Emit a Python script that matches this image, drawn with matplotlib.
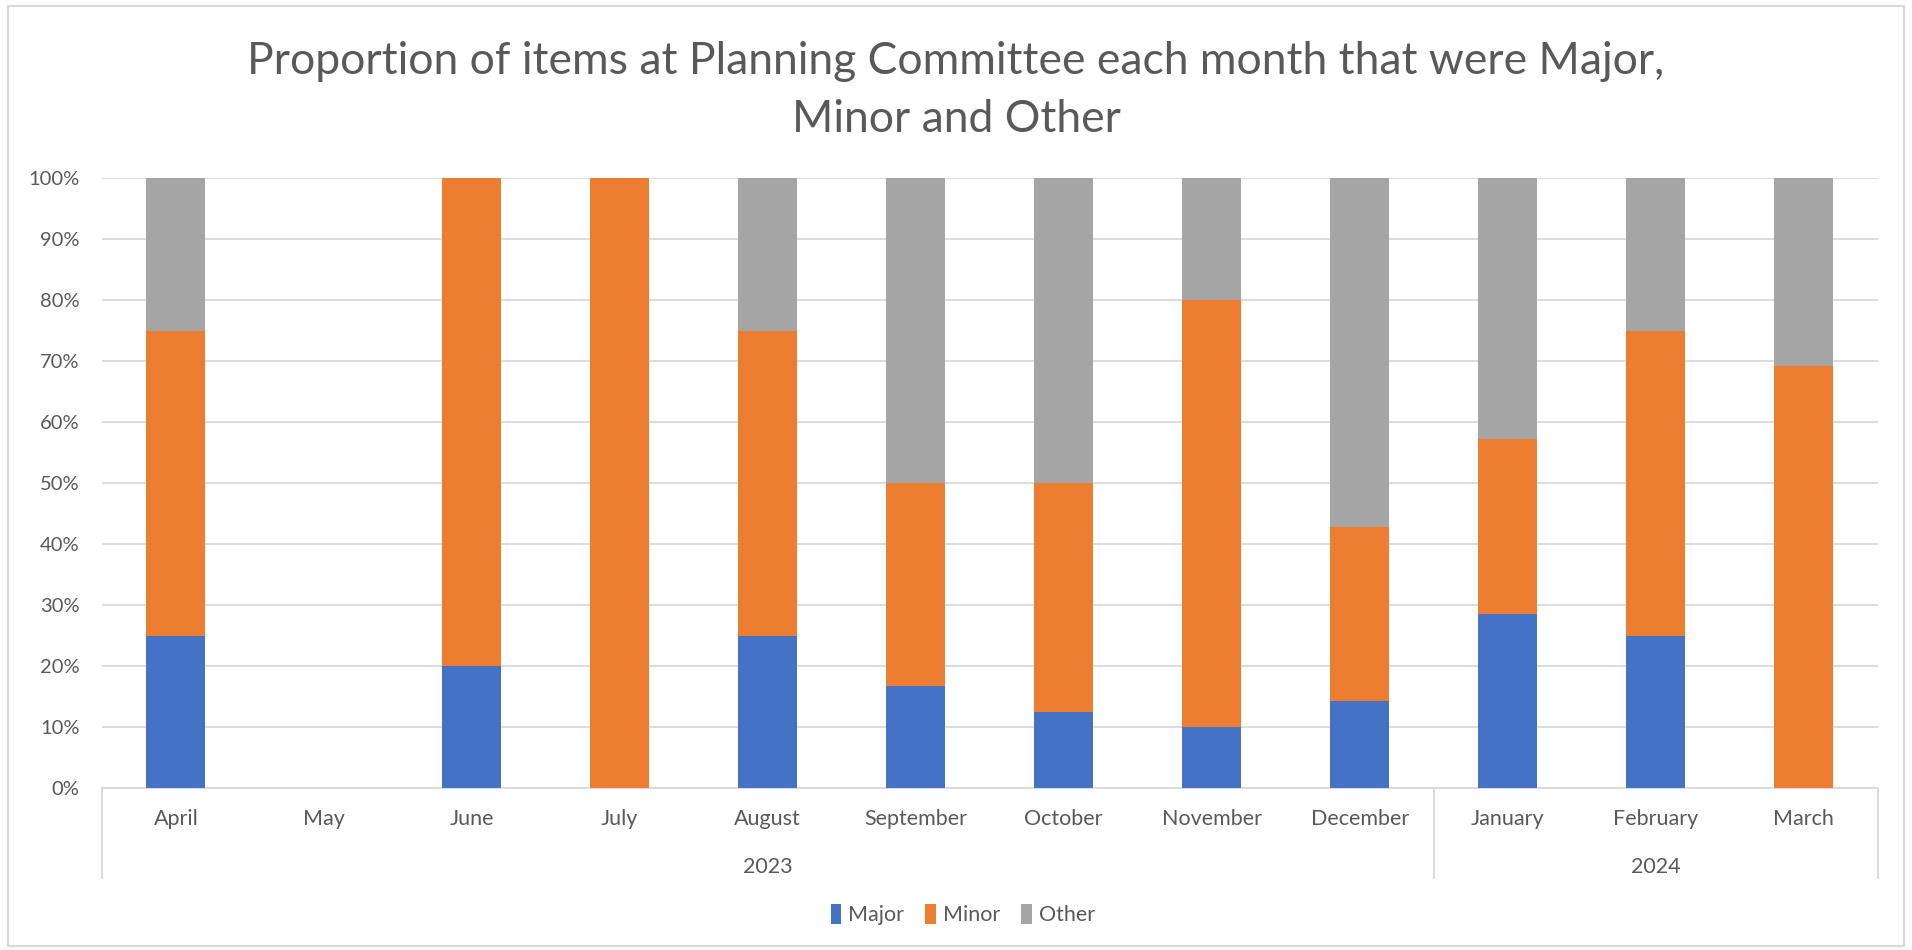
import matplotlib.pyplot as plt
import matplotlib.transforms as mtransforms
from matplotlib.patches import Rectangle
from matplotlib.ticker import PercentFormatter

months = ["April", "May", "June", "July", "August", "September", "October",
          "November", "December", "January", "February", "March"]
years = ["2023", "2024"]
year_spans = [(0, 8), (9, 11)]

# share of items per month (fractions)
major = [0.25, 0, 0.20, 0, 0.25, 1/6, 1/8, 0.10, 1/7, 2/7, 0.25, 0]
minor = [0.50, 0, 0.80, 1.0, 0.50, 2/6, 3/8, 0.70, 2/7, 2/7, 0.50, 9/13]
other = [0.25, 0, 0, 0, 0.25, 3/6, 4/8, 0.20, 4/7, 3/7, 0.25, 4/13]

text_col = "#595959"
grid_col = "#D9D9D9"
plt.rcParams["font.family"] = ["Lato", "DejaVu Sans"]

fig = plt.figure(figsize=(19.12, 9.5), dpi=100)
ax = fig.add_axes([0.0533, 0.1705, 0.9287, 0.6421])

x = list(range(len(months)))
w = 0.4
bot2 = [a + b for a, b in zip(major, minor)]
ax.bar(x, major, width=w, color="#4472C4", label="Major", zorder=3)
ax.bar(x, minor, width=w, bottom=major, color="#ED7D31", label="Minor", zorder=3)
ax.bar(x, other, width=w, bottom=bot2, color="#A5A5A5", label="Other", zorder=3)

ax.set_xlim(-0.5, len(months) - 0.5)
ax.set_ylim(0, 1)
ax.set_yticks([i / 10 for i in range(11)])
ax.yaxis.set_major_formatter(PercentFormatter(1.0, decimals=0))
ax.grid(axis="y", color=grid_col, linewidth=1.3, zorder=0)
for s in ["top", "right", "left"]:
    ax.spines[s].set_visible(False)
ax.spines["bottom"].set_color(grid_col)
ax.spines["bottom"].set_linewidth(1.3)
ax.tick_params(axis="y", length=0, labelsize=14.5, labelcolor=text_col, pad=16)
ax.tick_params(axis="x", length=0, labelsize=15.5, labelcolor=text_col, pad=15)
ax.set_xticks(x)
ax.set_xticklabels(months)

# second level category axis (years)
trans = mtransforms.blended_transform_factory(ax.transData, ax.transAxes)
for xb in [-0.5, 8.5, 11.5]:
    ax.plot([xb, xb], [0, -0.1475], transform=trans, color=grid_col,
            linewidth=1.3, clip_on=False)
for yr, (a, b) in zip(years, year_spans):
    ax.text((a + b) / 2, -0.13, yr, transform=trans, ha="center", va="center",
            fontsize=15.5, color=text_col)

ax.legend(loc="center", bbox_to_anchor=(0.5035, 0.037), bbox_transform=fig.transFigure,
          ncol=3, frameon=False, fontsize=15.5, labelcolor=text_col,
          handlelength=0.5, handleheight=1.0, handletextpad=0.3, columnspacing=1.0)

fig.text(0.5, 0.905, "Proportion of items at Planning Committee each month that were Major,\nMinor and Other",
         ha="center", va="center", fontsize=32, color=text_col, linespacing=1.5)

fig.patches.append(Rectangle((0.004, 0.004), 0.992, 0.99, transform=fig.transFigure,
                             fill=False, edgecolor=grid_col, linewidth=1.5))

fig.savefig("out.png", dpi=100)
